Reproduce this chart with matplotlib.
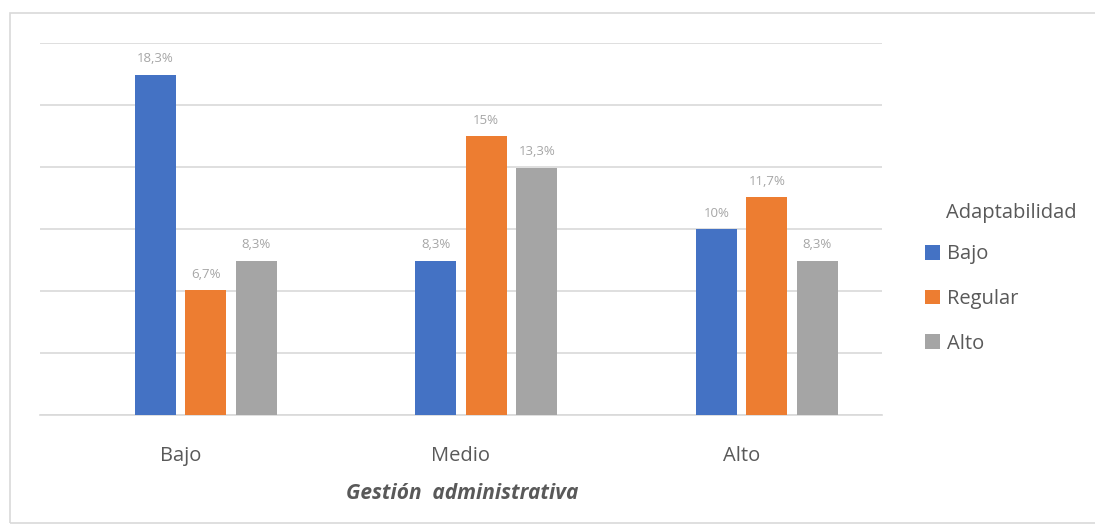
import matplotlib.pyplot as plt
import numpy as np
from matplotlib.patches import Rectangle

categories = ['Bajo', 'Medio', 'Alto']
series_names = ['Bajo', 'Regular', 'Alto']
bajo = [18.3, 8.3, 10.0]
regular = [6.7, 15.0, 11.7]
alto = [8.3, 13.3, 8.3]
labels_bajo = ['18,3%', '8,3%', '10%']
labels_regular = ['6,7%', '15%', '11,7%']
labels_alto = ['8,3%', '13,3%', '8,3%']

colors = ['#4472C4', '#ED7D31', '#A5A5A5']
text_color = '#595959'

plt.rcParams['font.family'] = ['Open Sans', 'DejaVu Sans']

fig = plt.figure(figsize=(10.95, 5.26), dpi=100)
W, H = 1095, 526
ax = fig.add_axes([40 / W, (H - 415) / H, (882 - 40) / W, (415 - 43) / H])

# chart border
fig.patches.append(Rectangle((10 / W, 3 / H), 1.2, (H - 16) / H, transform=fig.transFigure,
                             fill=False, edgecolor='#d9d9d9', linewidth=1.2))

x = np.arange(len(categories))
width = 0.146
step = 0.18
shift = 0.09
all_vals = [bajo, regular, alto]
all_labels = [labels_bajo, labels_regular, labels_alto]
for k, (vals, labs) in enumerate(zip(all_vals, all_labels)):
    pos = x + shift + (k - 1) * step
    ax.bar(pos, vals, width, color=colors[k], label=series_names[k], zorder=3)
    for p, v, lab in zip(pos, vals, labs):
        ax.text(p, v + 0.5, lab, ha='center', va='bottom', fontsize=9.5,
                color='#A6A6A6')

ax.set_xlim(-0.5, 2.5)
ax.set_ylim(0, 20)
ax.set_yticks(np.linspace(0, 20, 7))
ax.yaxis.grid(True, color='#d9d9d9', linewidth=1.2, zorder=0)
ax.tick_params(axis='y', left=False, labelleft=False)
ax.tick_params(axis='x', length=0, pad=22, labelsize=14.5, labelcolor=text_color)
ax.set_xticks(x)
ax.set_xticklabels(categories)
for s in ['top', 'right', 'left']:
    ax.spines[s].set_visible(False)
ax.spines['bottom'].set_color('#d9d9d9')
ax.spines['bottom'].set_linewidth(1.2)

ax.set_xlabel('Gestión  administrativa', fontsize=15, fontweight='bold',
              fontstyle='italic', color=text_color)
ax.xaxis.set_label_coords((462 - 40) / (882 - 40), -(483 - 415) / (415 - 43))

leg = ax.legend(loc='upper left', bbox_to_anchor=(1.041, 0.48),
                frameon=False, fontsize=14.5,
                handlelength=0.75, handleheight=0.75, handletextpad=0.35,
                labelspacing=1.22, borderaxespad=0)
for t in leg.get_texts():
    t.set_color(text_color)
fig.text(946 / W, 1 - 213 / H, 'Adaptabilidad', fontsize=14.5, color=text_color,
         ha='left', va='center')

fig.savefig('out.png', dpi=100)
